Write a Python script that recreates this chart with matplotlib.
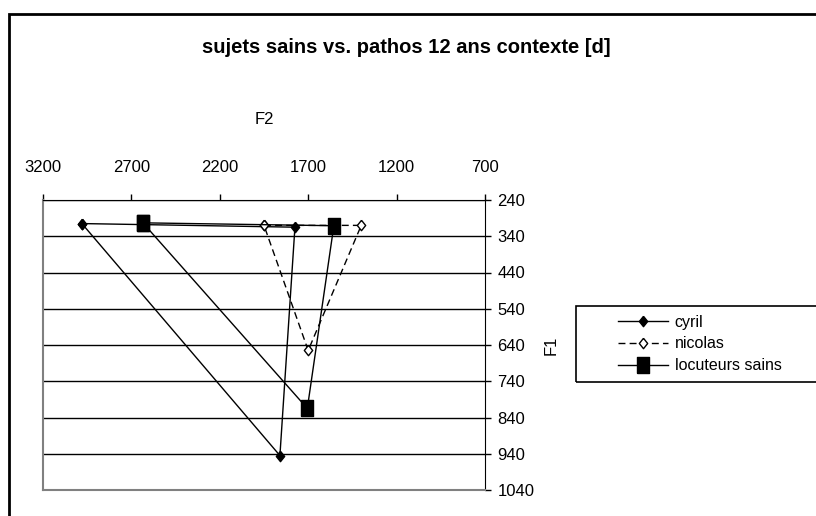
import matplotlib
matplotlib.use("Agg")
import matplotlib.pyplot as plt
from matplotlib.patches import Rectangle

# F2 (Hz) / F1 (Hz) triangles, order i - u - a - i
cyril_f2 = [2980, 1775, 1860, 2980]
cyril_f1 = [305, 315, 945, 305]
nicolas_f2 = [1950, 1400, 1700, 1950]
nicolas_f1 = [310, 310, 655, 310]
sains_f2 = [2635, 1555, 1705, 2635]
sains_f1 = [303, 311, 815, 303]

x_ticks = [3200, 2700, 2200, 1700, 1200, 700]
y_ticks = [240, 340, 440, 540, 640, 740, 840, 940, 1040]

plt.rcParams['font.family'] = ['Liberation Sans', 'DejaVu Sans']

diamond = [(0, 1), (0.8, 0), (0, -1), (-0.8, 0), (0, 1)]
rect = [(-0.73, -1), (0.73, -1), (0.73, 1), (-0.73, 1), (-0.73, -1)]


def main():
    fig = plt.figure(figsize=(8.16, 5.16), dpi=100)
    ax = fig.add_axes([43 / 816, 1 - 490 / 516, 442 / 816, 290 / 516])

    ax.plot(cyril_f2, cyril_f1, color='black', lw=1, marker=diamond,
            markersize=7.5, markerfacecolor='black', markeredgecolor='black',
            label='cyril', zorder=3)
    ax.plot(nicolas_f2, nicolas_f1, color='black', lw=1, linestyle=(0, (5, 3)),
            marker=diamond, markersize=7.5, markerfacecolor='white',
            markeredgecolor='black', markeredgewidth=1, label='nicolas', zorder=3)
    ax.plot(sains_f2, sains_f1, color='black', lw=1, marker=rect,
            markersize=11.5, markerfacecolor='black', markeredgecolor='black',
            label='locuteurs sains', zorder=3)

    ax.set_xlim(3200, 700)
    ax.set_ylim(1040, 240)
    ax.set_xticks(x_ticks)
    ax.set_yticks(y_ticks)
    ax.xaxis.tick_top()
    ax.yaxis.tick_right()
    ax.tick_params(axis='x', direction='out', length=4, width=1, pad=14,
                   labelsize=12, colors='black')
    ax.tick_params(axis='y', direction='out', length=4, width=1, pad=5,
                   labelsize=12, colors='black')
    for lbl in ax.get_yticklabels():
        lbl.set_horizontalalignment('left')

    ax.grid(axis='y', color='black', lw=1)
    ax.grid(axis='x', visible=False)
    ax.set_axisbelow(True)

    ax.spines['top'].set_color('black')
    ax.spines['right'].set_color('black')
    ax.spines['left'].set_color('#808080')
    ax.spines['bottom'].set_color('#808080')
    ax.spines['left'].set_linewidth(1.5)
    ax.spines['bottom'].set_linewidth(1.5)

    ax.set_xlabel('F2', fontsize=12)
    ax.xaxis.set_label_position('top')
    ax.xaxis.set_label_coords(0.5, (490 - 120) / 290, transform=ax.transAxes)
    ax.xaxis.label.set_va('center')
    ax.set_ylabel('F1', fontsize=12)
    ax.yaxis.set_label_position('right')
    ax.yaxis.set_label_coords((551 - 43) / 442, 0.5, transform=ax.transAxes)
    ax.yaxis.label.set_va('center')

    fig.text(406 / 816, 1 - 48 / 516, 'sujets sains vs. pathos 12 ans contexte [d]',
             ha='center', va='center', fontsize=14.5, fontweight='bold')

    # outer chart border (runs off the right and bottom edges)
    fig.patches.append(Rectangle((8.5 / 816, -0.1), 1.2, 1 - 14 / 516 + 0.1,
                                 transform=fig.transFigure, fill=False,
                                 edgecolor='black', lw=2))
    # legend frame (also runs off the right edge)
    fig.patches.append(Rectangle((576 / 816, 1 - 382 / 516), 0.5, 76 / 516,
                                 transform=fig.transFigure, fill=False,
                                 edgecolor='black', lw=1.2))
    fig.legend(loc='center left', bbox_to_anchor=(610 / 816, 1 - 344 / 516),
               frameon=False, fontsize=11.5, borderpad=0, handlelength=3.1,
               handletextpad=0.45, labelspacing=0.42)

    fig.savefig('out.png', dpi=100)


if __name__ == "__main__":
    main()
